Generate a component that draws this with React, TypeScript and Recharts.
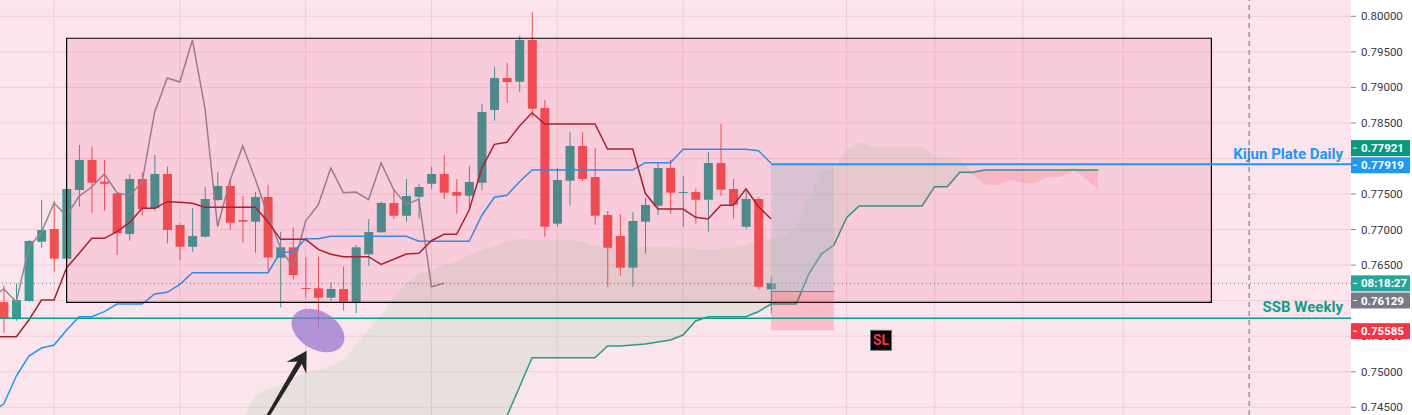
import React from "react";
import {
  ComposedChart,
  Bar,
  Line,
  Area,
  XAxis,
  YAxis,
  CartesianGrid,
  ReferenceArea,
  ReferenceLine,
  ReferenceDot,
} from "recharts";

// ---------- candles (bar index -1 … 60) ----------
const CANDLE_FIRST = -1;
const opens = [
  0.75981, 0.75752, 0.75995, 0.76829, 0.77008, 0.7659, 0.77557, 0.77979, 0.77673, 0.7751,
  0.76938, 0.77711, 0.77299, 0.77782, 0.77064, 0.76759, 0.769, 0.77416, 0.77613, 0.77135,
  0.77111, 0.77458, 0.76604, 0.7675, 0.76178, 0.76174, 0.76042, 0.76164, 0.75985, 0.76652,
  0.76962, 0.77374, 0.77195, 0.77462, 0.77645, 0.77782, 0.77528, 0.77476, 0.77659, 0.78682,
  0.79132, 0.7908, 0.79667, 0.7871, 0.77083, 0.77687, 0.78176, 0.77739, 0.77205, 0.7691,
  0.76464, 0.77111, 0.77336, 0.77866, 0.77521, 0.77528, 0.7742, 0.77936, 0.77571, 0.7704,
  0.7743, 0.7616,
];
const highs = [
  0.76216, 0.76244, 0.76853, 0.77416, 0.77402, 0.7758, 0.7819, 0.78166, 0.77979, 0.77519,
  0.77777, 0.77805, 0.78049, 0.77884, 0.77088, 0.77308, 0.77603, 0.7781, 0.77707, 0.77472,
  0.77533, 0.77631, 0.7697, 0.77032, 0.7661, 0.76618, 0.76258, 0.76478, 0.76783, 0.77149,
  0.77392, 0.77566, 0.77711, 0.77637, 0.77884, 0.78049, 0.77711, 0.77894, 0.78766, 0.79291,
  0.79347, 0.79727, 0.8006, 0.78823, 0.77862, 0.78372, 0.78372, 0.78147, 0.77261, 0.77219,
  0.77247, 0.77444, 0.7795, 0.77979, 0.77754, 0.77575, 0.78091, 0.78485, 0.77711, 0.77571,
  0.77458, 0.76337,
];
const lows = [
  0.75545, 0.75718, 0.75985, 0.76745, 0.76407, 0.7658, 0.77322, 0.77237, 0.77265, 0.76642,
  0.76843, 0.77195, 0.77265, 0.76807, 0.76572, 0.76689, 0.76891, 0.77402, 0.76994, 0.76815,
  0.76675, 0.76427, 0.75907, 0.763, 0.76042, 0.7562, 0.75999, 0.75859, 0.75822, 0.76492,
  0.76955, 0.77149, 0.77111, 0.77158, 0.77571, 0.7743, 0.77223, 0.77299, 0.77557, 0.78531,
  0.7878, 0.78939, 0.78579, 0.769, 0.7704, 0.77336, 0.77683, 0.77068, 0.76196, 0.76351,
  0.76196, 0.7666, 0.77209, 0.77223, 0.7704, 0.77083, 0.7697, 0.77477, 0.77153, 0.77012,
  0.7616, 0.75822,
];
const closes = [
  0.75752, 0.76009, 0.76839, 0.76994, 0.7659, 0.77571, 0.77979, 0.77659, 0.77645, 0.76948,
  0.77711, 0.77289, 0.77782, 0.76994, 0.76759, 0.7691, 0.7743, 0.77613, 0.77097, 0.77111,
  0.77458, 0.76607, 0.7675, 0.76361, 0.7617, 0.76042, 0.76164, 0.75985, 0.7675, 0.76966,
  0.77374, 0.77195, 0.77472, 0.77599, 0.77782, 0.77519, 0.77476, 0.77669, 0.78654, 0.79132,
  0.79076, 0.79667, 0.787, 0.7704, 0.77697, 0.78176, 0.77711, 0.77195, 0.76745, 0.76464,
  0.77121, 0.77346, 0.77866, 0.77519, 0.77528, 0.7742, 0.77936, 0.77561, 0.7735, 0.7743,
  0.76196, 0.76244,
];

// ---------- Ichimoku lines ----------
const LINE_FIRST = -2; // tenkan / kijun, bar -2 … 60
const tenkan = [
  0.75493, 0.75493, 0.75493, 0.75728, 0.76009, 0.76009, 0.76464, 0.76666, 0.76877, 0.76877,
  0.7697, 0.77097, 0.77299, 0.77299, 0.77392, 0.77383, 0.77369, 0.77313, 0.77313, 0.77313,
  0.77313, 0.77313, 0.77111, 0.76863, 0.76863, 0.76863, 0.76722, 0.76652, 0.76618, 0.76618,
  0.76618, 0.76511, 0.76582, 0.76656, 0.76666, 0.76843, 0.76933, 0.76933, 0.77275, 0.77862,
  0.78199, 0.78228, 0.78457, 0.78644, 0.78485, 0.78485, 0.78485, 0.78485, 0.78485, 0.78133,
  0.78133, 0.78133, 0.7751, 0.77289, 0.77289, 0.77289, 0.77173, 0.77149, 0.77341, 0.77341,
  0.77575, 0.77322, 0.77149,
];
const kijun = [
  0.74434, 0.74546, 0.7494, 0.75221, 0.75334, 0.75376, 0.75587, 0.75774, 0.75774, 0.75845,
  0.75953, 0.75953, 0.75953, 0.76094, 0.76118, 0.7623, 0.76393, 0.76393, 0.76393, 0.76393,
  0.76393, 0.76393, 0.76393, 0.7668, 0.7668, 0.7687, 0.7687, 0.76905, 0.76905, 0.76905,
  0.76905, 0.76905, 0.76905, 0.76905, 0.76835, 0.76835, 0.76835, 0.76835, 0.76835, 0.77198,
  0.77454, 0.77482, 0.77673, 0.77838, 0.77838, 0.77838, 0.77838, 0.77838, 0.77838, 0.77838,
  0.77838, 0.77838, 0.77941, 0.77941, 0.77941, 0.78129, 0.78129, 0.78129, 0.78129, 0.78129,
  0.78129, 0.78109, 0.77932,
];

const CHIKOU_FIRST = -2; // bar -2 … 34
const chikou = [
  0.76042, 0.76164, 0.75985, 0.7675, 0.76966, 0.77374, 0.77195, 0.77472, 0.77599, 0.77782,
  0.77519, 0.77476, 0.77669, 0.78654, 0.79132, 0.79076, 0.79667, 0.787, 0.7704, 0.77697,
  0.78176, 0.77711, 0.77195, 0.76745, 0.76464, 0.77121, 0.77346, 0.77866, 0.77519, 0.77528,
  0.7742, 0.77936, 0.77561, 0.7735, 0.7743, 0.76196, 0.76244,
];

const CLOUD_FIRST = 18; // bar 18 … 86
const senkouA = [
  0.74321, 0.74673, 0.74757, 0.74813, 0.74912, 0.74982, 0.75025, 0.75081, 0.75165, 0.75376,
  0.75587, 0.75784, 0.76051, 0.76248, 0.76375, 0.76431, 0.76501, 0.76558, 0.76642, 0.76713,
  0.76769, 0.76825, 0.76874, 0.76853, 0.76853, 0.76853, 0.76853, 0.76839, 0.76769, 0.76762,
  0.76762, 0.76762, 0.76762, 0.76762, 0.76755, 0.76741, 0.76734, 0.7672, 0.76734, 0.76748,
  0.76783, 0.76846, 0.76881, 0.76902, 0.7705, 0.77416, 0.77824, 0.77859, 0.78119, 0.78236,
  0.78169, 0.78169, 0.78169, 0.78169, 0.78169, 0.78028, 0.78007, 0.77986, 0.77768, 0.77634,
  0.77627, 0.77697, 0.77655, 0.77651, 0.77739, 0.77739, 0.77866, 0.77725, 0.77557,
];
const senkouB = [
  0.74, 0.74, 0.74, 0.74, 0.74, 0.74, 0.74, 0.74, 0.74, 0.74,
  0.74, 0.74, 0.74, 0.74, 0.74, 0.74, 0.74, 0.74, 0.74, 0.74,
  0.7404, 0.74377, 0.74785, 0.75198, 0.75198, 0.75198, 0.75198, 0.75198, 0.75198, 0.75362,
  0.75362, 0.75376, 0.7539, 0.75418, 0.75447, 0.75517, 0.75714, 0.75774, 0.75774, 0.75774,
  0.75774, 0.75847, 0.75953, 0.75953, 0.75953, 0.76375, 0.76656, 0.76783, 0.77167, 0.77332,
  0.77332, 0.77332, 0.77332, 0.77332, 0.77332, 0.77603, 0.77603, 0.77806, 0.77806, 0.77838,
  0.77838, 0.77838, 0.77838, 0.77838, 0.77838, 0.77838, 0.77838, 0.77838, 0.77838,
];

// ---------- axis / levels ----------
const yTicks = [
  0.745, 0.75, 0.755, 0.76, 0.765, 0.77, 0.775, 0.78, 0.785, 0.79, 0.795, 0.8,
];
const coveredTicks = [0.76, 0.78]; // fully hidden behind the price tags
const gridBars = [3, 13, 23, 33, 43, 53, 66, 73, 80, 88];
const X_MIN = -1.2957;
const X_MAX = 106.097;
const Y_MIN = 0.743917;
const Y_MAX = 0.802293;

const RANGE_BOX = { x1: 4, x2: 95, y1: 0.75977, y2: 0.79691 };
const KIJUN_PLATE = 0.77919;
const SSB_WEEKLY = 0.75752;
const ENTRY = 0.76129;
const TARGET = 0.77921;
const STOP = 0.75585;
const POSITION_BARS = [60, 65];
const TIME_MARK_BAR = 98;
const SL_BADGE = { x: 68.74, y: 0.75442 };
const ELLIPSE_AT = { x: 23.98, y: 0.7558 };
const ARROW = { tail: { x: 19.9, y: 0.74349 }, tip: { x: 23.08, y: 0.75296 } };
const COUNTDOWN = "08:18:27";

const UP = "#3a9990";
const DOWN = "#ef5350";
const FONT = "Roboto, sans-serif";

// ---------- table ----------
type Row = Record<string, any>;
const rows: Row[] = [];
for (let i = -2; i <= 86; i++) {
  const r: Row = { i };
  const c = i - CANDLE_FIRST;
  if (c >= 0 && c < opens.length) {
    r.open = opens[c];
    r.high = highs[c];
    r.low = lows[c];
    r.close = closes[c];
    r.range = [lows[c], highs[c]];
  }
  const l = i - LINE_FIRST;
  if (l >= 0 && l < tenkan.length) r.tenkan = tenkan[l];
  if (l >= 0 && l < kijun.length) r.kijun = kijun[l];
  const k = i - CHIKOU_FIRST;
  if (k >= 0 && k < chikou.length) r.chikou = chikou[k];
  const s = i - CLOUD_FIRST;
  if (s >= 0 && s < senkouA.length) {
    const a = senkouA[s];
    const b = senkouB[s];
    r.senkouB = b;
    r.cloudUp = [b, Math.max(a, b)];
    r.cloudDn = [Math.min(a, b), b];
  }
  rows.push(r);
}
const lastPrice = closes[closes.length - 1];

// ---------- shapes ----------
const Candle = (props: any) => {
  const { x, y, width, height, payload } = props;
  if (!payload || payload.open == null) return null;
  const { open, close, high, low } = payload;
  const top0 = Math.min(y, y + height);
  const h = Math.abs(height);
  const k = h / (high - low);
  const py = (v: number) => top0 + (high - v) * k;
  const cx = x + width / 2;
  const color = close >= open ? UP : DOWN;
  const bt = py(Math.max(open, close));
  const bb = py(Math.min(open, close));
  const bw = 9;
  return (
    <g>
      <line x1={cx} x2={cx} y1={top0} y2={top0 + h} stroke={color} strokeWidth={1} />
      <rect x={cx - bw / 2} y={bt} width={bw} height={Math.max(1, bb - bt)} fill={color} />
    </g>
  );
};

const AxisTick = (props: any) => {
  const { x, y, payload } = props;
  const v = payload?.value;
  if (v == null || coveredTicks.some((c) => Math.abs(c - v) < 1e-9)) return <g />;
  return (
    <text x={x} y={y} dy="0.355em" textAnchor="start" fill="#363a45" fontSize={11.5} fontFamily={FONT}>
      {Number(v).toFixed(5)}
    </text>
  );
};

const PriceTag = (props: any) => {
  const { viewBox, text, bg, dy = 0 } = props;
  if (!viewBox) return null;
  const left = viewBox.x + viewBox.width;
  const cy = viewBox.y + dy;
  return (
    <g>
      <rect x={left} y={cy - 8} width={59} height={16} fill={bg} />
      <line x1={left + 2} x2={left + 6} y1={cy} y2={cy} stroke="#ffffff" strokeWidth={1} />
      <text x={left + 10} y={cy} dy="0.36em" fill="#ffffff" fontSize={11.5} fontWeight={700} fontFamily={FONT}>
        {text}
      </text>
    </g>
  );
};

const LineText = (props: any) => {
  const { viewBox, text, color, dy = -6 } = props;
  if (!viewBox) return null;
  return (
    <text
      x={viewBox.x + viewBox.width - 8}
      y={viewBox.y + dy}
      textAnchor="end"
      fill={color}
      fontSize={15}
      fontWeight={700}
      fontFamily={FONT}
    >
      {text}
    </text>
  );
};

const SlBadge = (props: any) => {
  const { cx, cy } = props;
  return (
    <g>
      <rect x={cx - 10.5} y={cy - 10} width={21} height={20} fill="#000000" stroke="#6f7480" strokeWidth={1} />
      <text x={cx} y={cy} dy="0.36em" textAnchor="middle" fill="#f23645" fontSize={14} fontWeight={700} fontFamily={FONT}>
        SL
      </text>
    </g>
  );
};

const Ellipse = (props: any) => {
  const { cx, cy } = props;
  return (
    <ellipse
      cx={cx}
      cy={cy}
      rx={28.5}
      ry={19}
      transform={`rotate(30 ${cx} ${cy})`}
      fill="#9575cd"
      fillOpacity={0.72}
    />
  );
};

const Arrow = (props: any) => {
  const { x1, y1, x2, y2 } = props;
  if ([x1, y1, x2, y2].some((v) => v == null || isNaN(v))) return null;
  const dx = x2 - x1;
  const dy = y2 - y1;
  const len = Math.hypot(dx, dy) || 1;
  const ux = dx / len;
  const uy = dy / len;
  const nx = -uy;
  const ny = ux;
  const headLen = 20;
  const neck = 14;
  const headHalf = 11.5;
  const tailHalf = 1.6;
  const neckHalf = 2.6;
  const p = (d: number, o: number) => `${x2 - ux * d + nx * o},${y2 - uy * d + ny * o}`;
  const pts = [
    p(len, tailHalf),
    p(neck, neckHalf),
    p(headLen, headHalf),
    p(0, 0),
    p(headLen, -headHalf),
    p(neck, -neckHalf),
    p(len, -tailHalf),
  ].join(" ");
  return <polygon points={pts} fill="#262626" />;
};

const W = 1412;
const H = 415;
const MARGIN = { top: 0, right: 0, bottom: 0, left: 0 };

const xAxis = (
  <XAxis type="number" dataKey="i" domain={[X_MIN, X_MAX]} allowDataOverflow hide />
);

export default function App() {
  return (
    <div
      style={{
        position: "absolute",
        left: 0,
        top: 0,
        width: W,
        height: H,
        overflow: "hidden",
        background: "#ffffff",
      }}
    >
      {/* price series layer */}
      <div style={{ position: "absolute", left: 0, top: 0 }}>
        <ComposedChart width={W} height={H} data={rows} margin={MARGIN}>
          <CartesianGrid
            fill="#fce4ec"
            stroke="#ebcfd8"
            strokeWidth={1}
            horizontalValues={yTicks}
            verticalValues={gridBars}
          />
          {xAxis}
          <YAxis
            orientation="right"
            type="number"
            domain={[Y_MIN, Y_MAX]}
            allowDataOverflow
            ticks={yTicks}
            interval={0}
            width={61}
            axisLine={false}
            tickLine={{ stroke: "#8a8d96" }}
            tickSize={5}
            tickMargin={5}
            tick={<AxisTick />}
          />
          <Area
            dataKey="cloudUp"
            type="linear"
            stroke="none"
            fill="#7fcf8a"
            fillOpacity={0.16}
            isAnimationActive={false}
            activeDot={false}
          />
          <Area
            dataKey="cloudDn"
            type="linear"
            stroke="none"
            fill="#f23645"
            fillOpacity={0.14}
            isAnimationActive={false}
            activeDot={false}
          />
          <Line dataKey="senkouB" type="linear" stroke="#2a9a85" strokeWidth={1.5} dot={false} activeDot={false} isAnimationActive={false} />
          <Line dataKey="chikou" type="linear" stroke="#8d8a92" strokeWidth={1.5} dot={false} activeDot={false} isAnimationActive={false} />
          <Line dataKey="kijun" type="linear" stroke="#2196f3" strokeWidth={1.5} dot={false} activeDot={false} isAnimationActive={false} />
          <Line dataKey="tenkan" type="linear" stroke="#a3212c" strokeWidth={1.5} dot={false} activeDot={false} isAnimationActive={false} />
          <Bar dataKey="range" barSize={9} shape={<Candle />} isAnimationActive={false} />
          <ReferenceLine y={lastPrice} stroke="#3d8f88" strokeWidth={1} strokeDasharray="1 3" />
        </ComposedChart>
      </div>

      {/* drawings layer */}
      <div style={{ position: "absolute", left: 0, top: 0 }}>
        <ComposedChart width={W} height={H} data={rows} margin={MARGIN}>
          {xAxis}
          <YAxis
            orientation="right"
            type="number"
            domain={[Y_MIN, Y_MAX]}
            allowDataOverflow
            width={61}
            axisLine={false}
            tickLine={false}
            tick={false}
          />
          <ReferenceArea
            x1={RANGE_BOX.x1}
            x2={RANGE_BOX.x2}
            y1={RANGE_BOX.y1}
            y2={RANGE_BOX.y2}
            fill="#e91e63"
            fillOpacity={0.12}
            stroke="#000000"
            strokeWidth={1.2}
          />
          <ReferenceArea
            x1={POSITION_BARS[0]}
            x2={POSITION_BARS[1]}
            y1={ENTRY}
            y2={TARGET}
            fill="#a8b4c4"
            fillOpacity={0.38}
            stroke="none"
          />
          <ReferenceArea
            x1={POSITION_BARS[0]}
            x2={POSITION_BARS[1]}
            y1={STOP}
            y2={ENTRY}
            fill="#f23645"
            fillOpacity={0.22}
            stroke="none"
          />
          <ReferenceLine
            segment={[
              { x: POSITION_BARS[0], y: ENTRY },
              { x: POSITION_BARS[1], y: ENTRY },
            ]}
            stroke="#787b86"
            strokeWidth={1}
          />
          <ReferenceLine
            y={SSB_WEEKLY}
            stroke="#0a9e8a"
            strokeWidth={1.5}
            label={<LineText text="SSB Weekly" color="#0f9d8a" dy={-6} />}
          />
          <ReferenceLine
            segment={[
              { x: POSITION_BARS[0], y: KIJUN_PLATE },
              { x: X_MAX, y: KIJUN_PLATE },
            ]}
            stroke="#2196f3"
            strokeWidth={2}
            label={<LineText text="Kijun Plate Daily" color="#2196f3" dy={-5} />}
          />
          <ReferenceLine x={TIME_MARK_BAR} stroke="#6b6f7a" strokeDasharray="5 4" strokeWidth={1} />

          <ReferenceDot x={ELLIPSE_AT.x} y={ELLIPSE_AT.y} r={1} shape={<Ellipse />} />
          <ReferenceLine
            segment={[ARROW.tail, ARROW.tip]}
            ifOverflow="visible"
            shape={(p: any) => <Arrow {...p} />}
          />
          <ReferenceDot x={SL_BADGE.x} y={SL_BADGE.y} r={1} shape={<SlBadge />} />

          <ReferenceLine y={TARGET} stroke="none" label={<PriceTag text={TARGET.toFixed(5)} bg="#089981" dy={-16} />} />
          <ReferenceLine y={KIJUN_PLATE} stroke="none" label={<PriceTag text={KIJUN_PLATE.toFixed(5)} bg="#2196f3" dy={1} />} />
          <ReferenceLine y={lastPrice} stroke="none" label={<PriceTag text={COUNTDOWN} bg="#26a69a" dy={0} />} />
          <ReferenceLine y={ENTRY} stroke="none" label={<PriceTag text={ENTRY.toFixed(5)} bg="#787b86" dy={9} />} />
          <ReferenceLine y={STOP} stroke="none" label={<PriceTag text={STOP.toFixed(5)} bg="#f23645" dy={1} />} />
        </ComposedChart>
      </div>
    </div>
  );
}
